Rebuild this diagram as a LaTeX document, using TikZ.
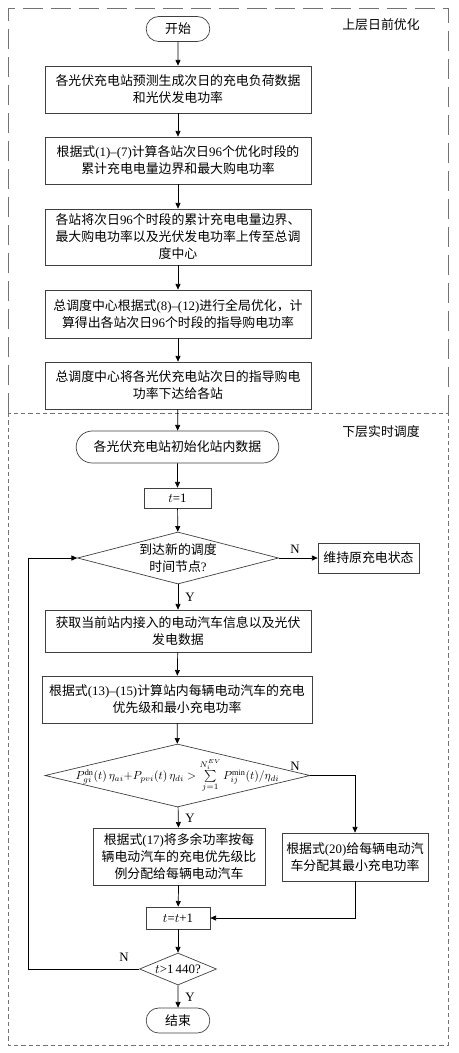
\documentclass[tikz,border=0pt]{standalone}
\usepackage{fontspec}
\setmainfont{Liberation Serif}
\newfontfamily\cjk{Noto Sans CJK SC}
\usetikzlibrary{arrows.meta,shapes.geometric,shapes.misc}
\newcommand{\lat}[1]{{\rmfamily #1}}
\newcommand{\cjkfs}{\cjk\fontsize{11}{14.5}\selectfont}

\begin{document}
\begin{tikzpicture}[x=0.03cm,y=-0.03cm,line width=0.6pt,
  >={Triangle[length=1.7mm,width=1.5mm]},
  box/.style={draw=black!75,align=center,font=\cjkfs,inner sep=1pt,minimum width=7.98cm},
  term/.style={box,rounded rectangle,minimum width=1.98cm,minimum height=0.75cm},
  dec/.style={draw=black!75,diamond,inner sep=0pt},
  yn/.style={font=\rmfamily\fontsize{11}{12}\selectfont,inner sep=0pt},
  frmup/.style={draw=black!55,line width=0.7pt,dash pattern=on 6mm off 2.4mm},
  frmlo/.style={draw=black!55,line width=0.7pt,dash pattern=on 1.3mm off 0.9mm}]
\useasboundingbox (0,0) rectangle (459,1053);
% ================= frames =================
\draw[frmup] (8,413) -- (8,8) -- (448,8) -- (448,413);
\draw[frmlo] (8,413) rectangle (448,1045);
\node[font=\cjkfs] (ttlup) at (381,25) {上层日前优化};
\node[font=\cjkfs] (ttllo) at (381,432) {下层实时调度};
% ================= upper layer =================
\node[term] (start) at (178,29) {开始};
\node[box,minimum height=1.41cm] (b1) at (178,89.5)
  {各光伏充电站预测生成次日的充电负荷数据\\和光伏发电功率};
\node[box,minimum height=1.41cm] (b2) at (178,160.5)
  {根据式\lat{(1)–(7)}计算各站次日\lat{96}个优化时段的\\累计充电电量边界和最大购电功率};
\node[box,minimum height=1.68cm] (b3) at (178,237)
  {各站将次日\lat{96}个时段的累计充电电量边界、\\最大购电功率以及光伏发电功率上传至总调\\度中心};
\node[box,minimum height=1.44cm] (b4) at (178,314)
  {总调度中心根据式\lat{(8)–(12)}进行全局优化，计\\算得出各站次日\lat{96}个时段的指导购电功率};
\node[box,minimum height=1.41cm] (b5) at (178,385.5)
  {总调度中心将各光伏充电站次日的指导购电\\功率下达给各站};
% ================= lower layer =================
\node[term,minimum width=6.15cm,minimum height=0.96cm] (init) at (177.5,447)
  {各光伏充电站初始化站内数据};
\node[box,minimum width=2.01cm,minimum height=0.6cm] (t1) at (177.5,498) {\lat{$t$=1}};
\node[dec,minimum width=6.03cm,minimum height=1.56cm] (d1) at (178,558) {};
\node[font=\cjkfs,align=center] (d1txt) at (d1) {到达新的调度\\时间节点\lat{?}};
\node[box,minimum width=3.03cm,minimum height=0.9cm] (keep) at (368.5,558) {维持原充电状态};
\node[box,minimum height=1.26cm] (b6) at (178,631)
  {获取当前站内接入的电动汽车信息以及光伏\\发电数据};
\node[box,minimum width=8.1cm,minimum height=1.41cm] (b7) at (177,699.5)
  {根据式\lat{(13)–(15)}计算站内每辆电动汽车的充电\\优先级和最小充电功率};
\node[dec,minimum width=7.95cm,minimum height=1.89cm] (d2) at (177.5,775.5) {};
\node[font=\fontsize{10}{12}\selectfont,inner sep=0pt] (d2txt) at (d2)
  {$P_{gi}^{\mathrm{dn}}(t)\,\eta_{ai}{+}P_{pvi}(t)\,\eta_{di}>\sum\limits_{j=1}^{N_i^{EV}}P_{ij}^{\min}(t)/\eta_{di}$};
\node[box,minimum width=5.16cm,minimum height=1.71cm] (b8) at (179,856.5)
  {根据式\lat{(17)}将多余功率按每\\辆电动汽车的充电优先级比\\例分配给每辆电动汽车};
\node[box,minimum width=4.38cm,minimum height=1.44cm] (b9) at (355,857)
  {根据式\lat{(20)}给每辆电动汽\\车分配其最小充电功率};
\node[box,minimum width=1.92cm,minimum height=0.66cm] (tinc) at (178,918) {\lat{$t$=$t$+1}};
\node[dec,minimum width=2.31cm,minimum height=0.96cm] (d3) at (178,969) {};
\node[font=\rmfamily\fontsize{11}{12}\selectfont,inner sep=0pt] (d3txt) at (d3) {$t$>1\,440?};
\node[term] (stop) at (178,1020.5) {结束};
\coordinate (loop) at (28,969);
% ================= connectors =================
\draw[->] (start) -- (b1);
\draw[->] (b1) -- (b2);
\draw[->] (b2) -- (b3);
\draw[->] (b3) -- (b4);
\draw[->] (b4) -- (b5);
\draw[->] (b5) -- (init);
\draw[->] (init) -- (t1);
\draw[->] (t1) -- (d1);
\draw[->] (d1) -- (keep);
\draw[->] (d1) -- (b6);
\draw[->] (b6) -- (b7);
\draw[->] (b7) -- (d2);
\draw[->] (d2) -- (b8);
\draw[->] (d2.east) -| (b9.north);
\draw[->] (b8) -- (tinc);
\draw[->] (b9.south) |- (tinc.east);
\draw[->] (tinc) -- (d3);
\draw[->] (d3) -- (stop);
\draw[->] (d3.west) -- (loop) |- (d1.west);
% Y / N labels
\node[yn] (n1) at (295,549) {N};
\node[yn] (y1) at (190,597) {Y};
\node[yn] (n2) at (295,766) {N};
\node[yn] (y2) at (190,818) {Y};
\node[yn] (n3) at (124,957) {N};
\node[yn] (y3) at (190,997) {Y};
\end{tikzpicture}
\end{document}
